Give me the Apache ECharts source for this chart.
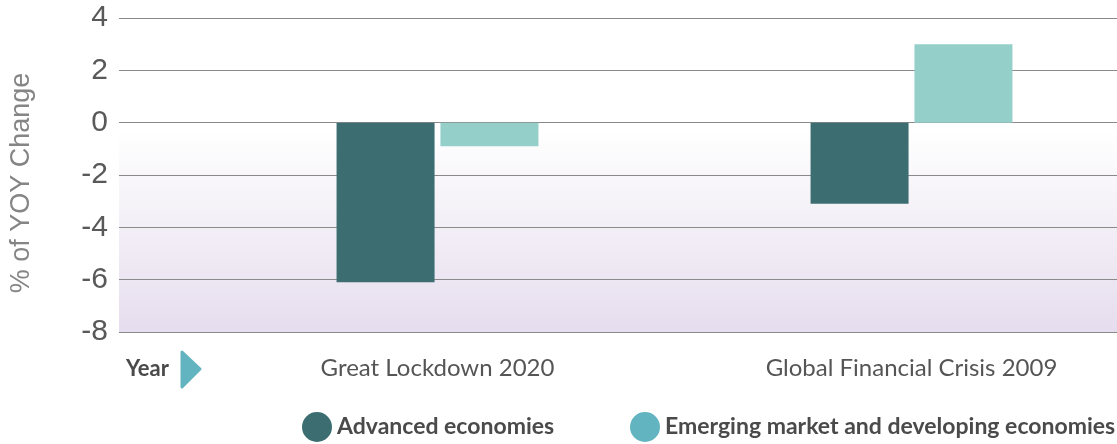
<!DOCTYPE html>
<html>
<head>
<meta charset="utf-8">
<script src="https://cdn.jsdelivr.net/npm/echarts@6/dist/echarts.min.js"></script>
<style>html,body{margin:0;padding:0;background:#fff;}#c{width:1117px;height:444px;}</style>
</head>
<body>
<div id="c"></div>
<script>
const categories = ['Great Lockdown 2020', 'Global Financial Crisis 2009'];
const advanced = [-6.1, -3.1];
const emerging = [-0.9, 3.0];
const seriesNames = ['Advanced economies', 'Emerging market and developing economies'];
const yTicks = {min: -8, max: 4, interval: 2};

const chart = echarts.init(document.getElementById('c'));
const yBase = {type: 'value', min: yTicks.min, max: yTicks.max, interval: yTicks.interval};
const legendText = {fontFamily: 'Lato', fontWeight: 'bold', fontSize: 23, color: '#4a4a4a'};
chart.setOption({
  animation: false,
  grid: [
    {left: 106, right: 0, top: 18, bottom: 112, show: true, borderWidth: 0,
     backgroundColor: {type: 'linear', x: 0, y: 0, x2: 0, y2: 1, colorStops: [
       {offset: 0, color: '#ffffff'}, {offset: 0.36, color: '#ffffff'},
       {offset: 0.45, color: '#fbfafc'}, {offset: 1, color: '#e6ddee'}]}},
    {left: 200.5, right: -31.5, top: 18, bottom: 112, outerBoundsMode: 'none'}
  ],
  xAxis: [
    {gridIndex: 0, type: 'value', min: 0, max: 1, show: false},
    {gridIndex: 1, type: 'category', data: categories,
     axisLine: {show: false}, axisTick: {show: false},
     axisLabel: {margin: 24, fontFamily: 'Lato', fontSize: 24, color: '#555555'}}
  ],
  yAxis: [
    Object.assign({}, yBase, {gridIndex: 0,
      name: '% of YOY Change', nameLocation: 'middle', nameRotate: 90, nameGap: 84,
      nameTextStyle: {fontFamily: 'Liberation Sans', fontSize: 27, color: '#858585', padding: [0, 16, 0, 0]},
      axisLine: {show: false}, axisTick: {show: false},
      axisLabel: {margin: 11, fontFamily: 'Liberation Sans', fontSize: 30, color: '#595959'},
      splitLine: {show: true, lineStyle: {color: '#8a8a8a', width: 1.2}}}),
    Object.assign({}, yBase, {gridIndex: 1, show: false, splitLine: {show: false}})
  ],
  legend: [
    {left: 297, top: 407, itemWidth: 30, itemHeight: 30, icon: 'circle', textStyle: legendText,
     data: [{name: seriesNames[0], itemStyle: {color: '#3c6e71'}}]},
    {left: 625, top: 407, itemWidth: 30, itemHeight: 30, icon: 'circle', textStyle: legendText,
     data: [{name: seriesNames[1], itemStyle: {color: '#62b4c0'}}]}
  ],
  graphic: [
    {type: 'text', left: 126, top: 358, style: {text: 'Year', fontFamily: 'Lato', fontWeight: 'bold', fontSize: 22, fill: '#4a4a4a'}},
    {type: 'polygon', shape: {points: [[182, 352], [200, 369], [182, 387]]},
     style: {fill: '#62b4c0', stroke: '#62b4c0', lineWidth: 3, lineJoin: 'round'}}
  ],
  series: [
    {name: seriesNames[0], type: 'bar', xAxisIndex: 1, yAxisIndex: 1, data: advanced,
     barWidth: 98, barGap: '6%', itemStyle: {color: '#3c6e71'}},
    {name: seriesNames[1], type: 'bar', xAxisIndex: 1, yAxisIndex: 1, data: emerging,
     barWidth: 98, barGap: '6%', itemStyle: {color: '#95cfca'}}
  ]
});
</script>
</body>
</html>
